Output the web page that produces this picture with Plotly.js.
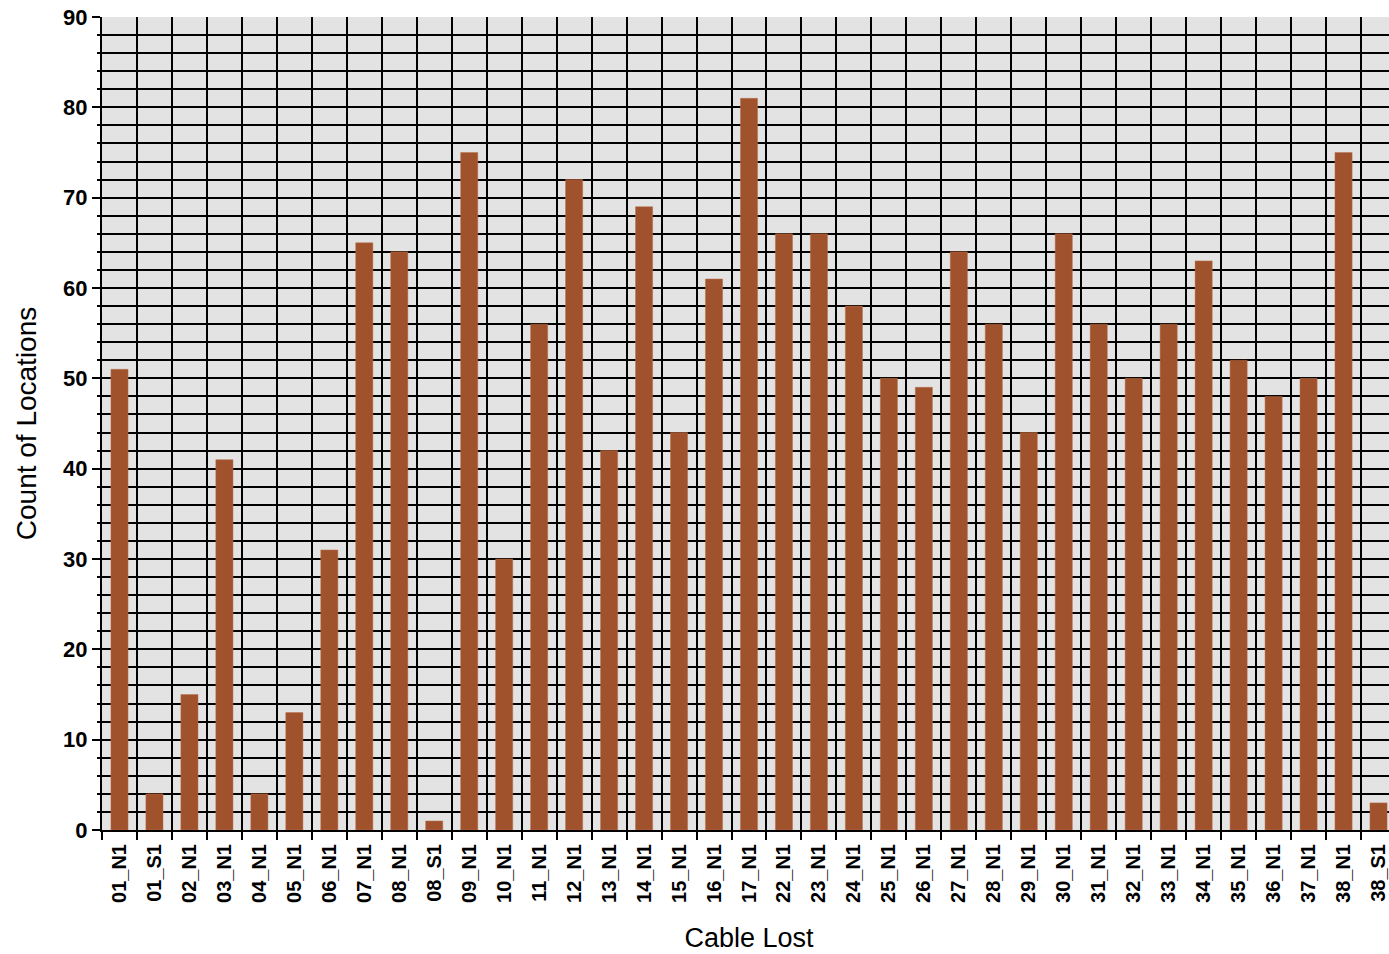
<!DOCTYPE html>
<html>
<head>
<meta charset="utf-8">
<script src="https://cdn.plot.ly/plotly-3.0.1.min.js"></script>
<style>html,body{margin:0;padding:0;overflow:hidden;background:#fff;}</style>
</head>
<body>
<div id="chart"></div>
<script>
const categories = ["01_N1","01_S1","02_N1","03_N1","04_N1","05_N1","06_N1","07_N1","08_N1","08_S1",
  "09_N1","10_N1","11_N1","12_N1","13_N1","14_N1","15_N1","16_N1","17_N1","22_N1",
  "23_N1","24_N1","25_N1","26_N1","27_N1","28_N1","29_N1","30_N1","31_N1","32_N1",
  "33_N1","34_N1","35_N1","36_N1","37_N1","38_N1","38_S1"];
const counts = [51,4,15,41,4,13,31,65,64,1,
  75,30,56,72,42,69,44,61,81,66,
  66,58,50,49,64,56,44,66,56,50,
  56,63,52,48,50,75,3];
const yTickVals = [0,10,20,30,40,50,60,70,80,90];

const trace = {
  type: "bar",
  x: categories,
  y: counts,
  marker: {color: "#A0522D", line: {color: "#B8704A", width: 0.5}},
  hoverinfo: "x+y"
};

const layout = {
  width: 1396,
  height: 954,
  margin: {l: 102, r: 0, t: 17, b: 124},
  paper_bgcolor: "#ffffff",
  plot_bgcolor: "#E3E3E3",
  bargap: 0.51,
  showlegend: false,
  font: {family: "Liberation Sans, Arial, sans-serif", color: "#000"},
  xaxis: {
    type: "category",
    range: [-0.5, categories.length - 0.5],
    tickson: "boundaries",
    showgrid: true,
    gridcolor: "#000",
    gridwidth: 2,
    ticks: "outside",
    ticklen: 8,
    tickwidth: 2,
    tickcolor: "#000",
    tickangle: -90,
    ticklabelstandoff: 4,
    tickfont: {family: "Liberation Sans, Arial, sans-serif", size: 20, color: "#000", weight: "bold"},
    showline: true,
    linecolor: "#000",
    linewidth: 2,
    zeroline: false,
    title: {text: "Cable Lost", font: {size: 27, color: "#000"}, standoff: 26}
  },
  yaxis: {
    range: [0, 90],
    tickvals: yTickVals,
    ticks: "outside",
    ticklen: 8,
    tickwidth: 2,
    tickcolor: "#000",
    tickfont: {family: "Liberation Sans, Arial, sans-serif", size: 22, color: "#000", weight: "bold"},
    showgrid: true,
    gridcolor: "#000",
    gridwidth: 2,
    minor: {dtick: 2, showgrid: true, gridcolor: "#000", gridwidth: 2, ticks: "outside", ticklen: 3, tickcolor: "#000"},
    showline: true,
    linecolor: "#000",
    linewidth: 2,
    zeroline: false,
    title: {text: "Count of Locations", font: {size: 28, color: "#000"}, standoff: 18}
  }
};

Plotly.newPlot("chart", [trace], layout, {displayModeBar: false, responsive: false});
</script>
</body>
</html>
